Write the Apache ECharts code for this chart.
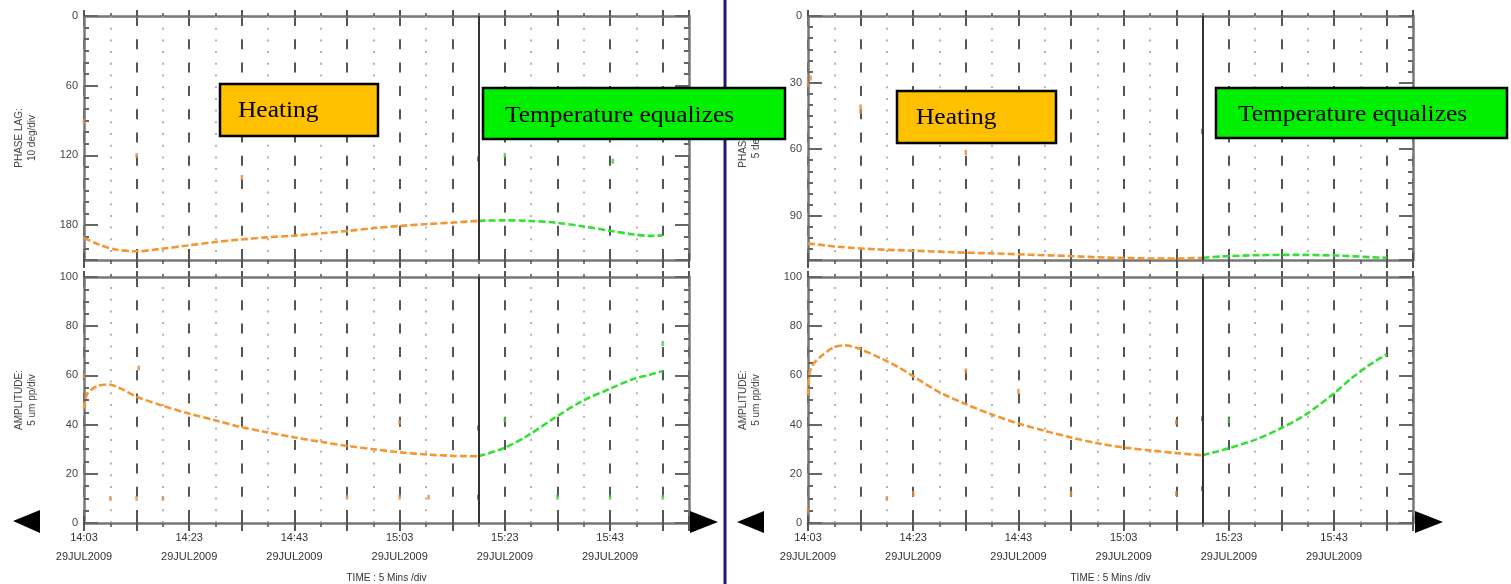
<!DOCTYPE html>
<html><head><meta charset="utf-8">
<script src="https://cdn.jsdelivr.net/npm/echarts@6/dist/echarts.min.js"></script>
<style>html,body{margin:0;padding:0;background:#fff}#c{width:1511px;height:584px}</style>
</head><body><div id="c"></div>
<script>
// ---- data (time in minutes after 14:03) ----
const timeTickLabels = ['14:03', '14:23', '14:43', '15:03', '15:23', '15:43'];
const dateText = '29JUL2009';
const switchMinute = 75;
const halfStepMinutes = [5, 15, 25, 35, 45, 55, 65, 85, 95, 105];

const leftPhaseHeat = [[0,191],[3,197],[6,201],[10,202.5],[14.5,200.5],[19.75,197.5],[25,194.5],[29.5,192.5],[34.75,190.5],[40,189],[45.25,187],[50.5,184.8],[55,182.6],[60.25,180.6],[65.5,179],[70,177.8],[75,176.3]];
const leftPhaseCool = [[75,176.3],[79.75,175.9],[84.25,176.3],[89.5,177.8],[94.75,181],[100,184.8],[104.5,188],[107.5,189.2],[110,188.8]];
const leftAmpHeat = [[0,46.5],[0.6,52.5],[2.5,55.6],[4.75,56.3],[7,54.6],[10,51.3],[14.5,48],[19.75,44.6],[25,41.7],[29.5,39.2],[34.75,36.9],[40,34.8],[45.25,32.9],[50.5,31.2],[55,30],[60.25,28.7],[65.5,27.8],[70,27.3],[75,27.1]];
const leftAmpCool = [[75,27.1],[79.75,30.4],[84.25,35.4],[89.5,42.8],[94.75,49.6],[100,54.6],[104.5,58.6],[107.5,60.2],[110,61.8]];
const rightPhaseHeat = [[0,102.5],[5.6,104],[13,105.2],[20,105.8],[27.5,106.5],[34.8,107],[42,107.6],[49.4,108.2],[56.7,108.9],[64,109.3],[70,109.4],[75,109]];
const rightPhaseCool = [[75,109],[78.6,108.4],[85.9,107.8],[93.2,107.7],[100.5,108],[107.8,108.8],[110,109]];
const rightAmpHeat = [[0,52],[0.3,61],[1,64.6],[2.7,68.2],[4.9,71.4],[7.1,72.2],[10,70.6],[14.4,66.4],[17.3,63.2],[20.2,59.4],[24.6,53.6],[29.7,48.6],[34.8,44.2],[39.9,40.5],[45,37.5],[50.1,34.7],[55.3,32.3],[60.4,30.6],[65.5,29.4],[70.2,28.4],[75,27.5]];
const rightAmpCool = [[75,27.5],[80,30.4],[85.2,34],[89.6,38.2],[94.7,44.2],[99.8,52.4],[103.4,59],[106.4,63.8],[108,66],[110,68.5]];

const leftPhaseStrayOrange = [[0,91],[10,120],[30,139]];
const leftPhaseStrayGreen = [[80,120],[100.5,125]];
const leftPhaseStrayBlack = [[75,123]];
const leftAmpStrayOrange = [[0,60],[10.4,63],[5,10],[10,10],[15,10],[50,10.5],[60,10.5],[65.5,10.5],[60,41]];
const leftAmpStrayGreen = [[80,42],[90,10.5],[100,10.5],[110,10.5],[110,73]];
const leftAmpStrayBlack = [[75,10.5],[75,38.6]];
const rightPhaseStrayOrange = [[0,31],[0.5,28],[10,41],[10,43],[30,61.5]];
const rightPhaseStrayGreen = [];
const rightPhaseStrayBlack = [[75,52]];
const rightAmpStrayOrange = [[0,5],[15,10],[20,12],[50,12],[70,12],[70,41],[30,61.8],[40,53.5]];
const rightAmpStrayGreen = [[80,41.7]];
const rightAmpStrayBlack = [[75,14],[75,42.4]];

// ---- layout / styles ----
const FONT = 'Liberation Sans';
const X_MAX = 115;
const grids = [
  {left: 84, top: 16, width: 605, height: 244},
  {left: 84, top: 277, width: 605, height: 246},
  {left: 808, top: 16, width: 605, height: 244},
  {left: 808, top: 277, width: 605, height: 246}
];
const panels = [
  {yMin:0, yMax:210, minor:10, major:60, inverse:true, name:'PHASE LAG:\n10 deg/div', heat:leftPhaseHeat, cool:leftPhaseCool, so:leftPhaseStrayOrange, sg:leftPhaseStrayGreen, sb:leftPhaseStrayBlack, xLabels:false},
  {yMin:0, yMax:100, minor:5, major:20, inverse:false, name:'AMPLITUDE:\n5 um pp/div', heat:leftAmpHeat, cool:leftAmpCool, so:leftAmpStrayOrange, sg:leftAmpStrayGreen, sb:leftAmpStrayBlack, xLabels:true},
  {yMin:0, yMax:110, minor:5, major:30, inverse:true, name:'PHASE LAG:\n5 deg/div', heat:rightPhaseHeat, cool:rightPhaseCool, so:rightPhaseStrayOrange, sg:rightPhaseStrayGreen, sb:rightPhaseStrayBlack, xLabels:false},
  {yMin:0, yMax:100, minor:5, major:20, inverse:false, name:'AMPLITUDE:\n5 um pp/div', heat:rightAmpHeat, cool:rightAmpCool, so:rightAmpStrayOrange, sg:rightAmpStrayGreen, sb:rightAmpStrayBlack, xLabels:true}
];

const AXIS_COLOR = '#777';
const xAxes = [], yAxes = [], series = [];
panels.forEach((p, g) => {
  xAxes.push({
    gridIndex: g, type: 'value', min: 0, max: X_MAX, interval: 10, position: 'bottom',
    axisLine: {onZero: false, lineStyle: {color: AXIS_COLOR, width: 2.5}},
    axisTick: {show: true, length: 8, lineStyle: {color: '#555', width: 2}},
    minorTick: {show: true, splitNumber: 2, length: 4, lineStyle: {color: '#555', width: 1.5}},
    splitLine: {show: true, lineStyle: {color: '#555', width: 2, type: [10, 13.3]}},
    axisLabel: p.xLabels ? {
      show: true, margin: 5, color: '#333', fontSize: 11, fontFamily: FONT, lineHeight: 19,
      formatter: v => (v % 20 === 0 && v / 20 < timeTickLabels.length) ? timeTickLabels[v / 20] + '\n' + dateText : ''
    } : {show: false},
    name: p.xLabels ? 'TIME : 5 Mins /div' : '', nameLocation: 'middle', nameGap: 50,
    nameTextStyle: {color: '#333', fontSize: 10, fontFamily: FONT}
  });
  xAxes.push({
    gridIndex: g, type: 'value', min: 0, max: X_MAX, interval: 10, position: 'top',
    axisLine: {onZero: false, lineStyle: {color: AXIS_COLOR, width: 2.5}},
    axisTick: {show: true, length: 6, lineStyle: {color: '#555', width: 2}},
    minorTick: {show: true, splitNumber: 2, length: 3, lineStyle: {color: '#555', width: 1.5}},
    splitLine: {show: false}, axisLabel: {show: false}
  });
  xAxes.push({
    gridIndex: g, type: 'value', min: 0, max: X_MAX, interval: 10, position: 'bottom',
    axisLine: {show: false, onZero: false},
    axisTick: {show: true, inside: true, length: 7, lineStyle: {color: '#555', width: 2}},
    splitLine: {show: false}, axisLabel: {show: false}
  });
  const yBase = {gridIndex: g, type: 'value', min: p.yMin, max: p.yMax, inverse: p.inverse, splitLine: {show: false}};
  yAxes.push(Object.assign({}, yBase, {
    position: 'left', interval: p.minor,
    axisLine: {show: true, onZero: false, lineStyle: {color: AXIS_COLOR, width: 2.5}},
    axisTick: {show: true, inside: true, length: 5, lineStyle: {color: '#666', width: 2}},
    axisLabel: {show: true, margin: 6, color: '#444', fontSize: 11, fontFamily: FONT,
      formatter: v => (v % p.major === 0) ? String(v) : ''},
    name: p.name, nameLocation: 'middle', nameRotate: 90, nameGap: 45,
    nameTextStyle: {color: '#444', fontSize: 10, lineHeight: 13, fontFamily: FONT}
  }));
  yAxes.push(Object.assign({}, yBase, {
    position: 'left', interval: p.major,
    axisLine: {show: false, onZero: false},
    axisTick: {show: true, inside: true, length: 14, lineStyle: {color: '#666', width: 2}},
    axisLabel: {show: false}
  }));
  yAxes.push(Object.assign({}, yBase, {
    position: 'right', interval: p.minor,
    axisLine: {show: true, onZero: false, lineStyle: {color: AXIS_COLOR, width: 2.5}},
    axisTick: {show: true, inside: true, length: 5, lineStyle: {color: '#666', width: 2}},
    axisLabel: {show: false}
  }));
  yAxes.push(Object.assign({}, yBase, {
    position: 'right', interval: p.major,
    axisLine: {show: false, onZero: false},
    axisTick: {show: true, inside: true, length: 14, lineStyle: {color: '#666', width: 2}},
    axisLabel: {show: false}
  }));
  const xi = 3 * g, yi = 4 * g;
  const markLines = halfStepMinutes.map(t => ({xAxis: t, lineStyle: {color: '#a0a0a0', width: 1.6, type: [2, 9.7]}}))
    .concat([{xAxis: switchMinute, lineStyle: {color: '#333', width: 2, type: 'solid'}}]);
  series.push({
    type: 'line', xAxisIndex: xi, yAxisIndex: yi, data: [], z: 1,
    markLine: {silent: true, symbol: ['none', 'none'], label: {show: false}, data: markLines}
  });
  series.push({
    type: 'line', xAxisIndex: xi, yAxisIndex: yi, data: p.heat, symbol: 'none', smooth: 0.3, z: 3,
    lineStyle: {color: '#F39633', width: 2.6, type: [7, 3]}
  });
  series.push({
    type: 'line', xAxisIndex: xi, yAxisIndex: yi, data: p.cool, symbol: 'none', smooth: 0.3, z: 3,
    lineStyle: {color: '#35E035', width: 2.6, type: [7, 3]}
  });
  [[p.so, '#E8893A'], [p.sg, '#35D035'], [p.sb, '#222']].forEach(([d, c]) => {
    series.push({type: 'scatter', xAxisIndex: xi, yAxisIndex: yi, data: d, symbol: 'rect', symbolSize: [2.5, 5], z: 4,
      itemStyle: {color: c}});
  });
});

function box(x, y, w, h, fill, label, tx, ty) {
  return [
    {type: 'rect', z: 100, shape: {x: x, y: y, width: w, height: h}, style: {fill: fill, stroke: '#000', lineWidth: 2.5}},
    {type: 'text', z: 101, x: tx, y: ty, scaleX: 1.06, style: {text: label, fill: '#000', fontSize: 24, fontFamily: 'Liberation Serif', verticalAlign: 'middle'}}
  ];
}
function tri(points) {
  return {type: 'polygon', z: 60, shape: {points: points}, style: {fill: '#000'}};
}
const graphic = [
  {type: 'line', z: 50, shape: {x1: 725, y1: 0, x2: 725, y2: 584}, style: {stroke: '#1b1b70', lineWidth: 3}},
  tri([[13, 521], [40, 510], [40, 533]]),
  tri([[718, 522], [690, 511], [690, 533]]),
  tri([[737, 522], [764, 511], [764, 533]]),
  tri([[1443, 522], [1415, 511], [1415, 533]])
].concat(
  box(220, 84, 158, 52, '#FFC000', 'Heating', 238, 111),
  box(483, 88, 302, 51, '#00F000', 'Temperature equalizes', 505, 116),
  box(897, 91, 159, 52, '#FFC000', 'Heating', 916, 118),
  box(1216, 88, 291, 50, '#00F000', 'Temperature equalizes', 1238, 115)
);

const chart = echarts.init(document.getElementById('c'), null, {renderer: 'canvas'});
chart.setOption({
  animation: false,
  backgroundColor: '#fff',
  textStyle: {fontFamily: FONT},
  grid: grids,
  xAxis: xAxes,
  yAxis: yAxes,
  series: series,
  graphic: graphic
});
</script>
</body></html>
